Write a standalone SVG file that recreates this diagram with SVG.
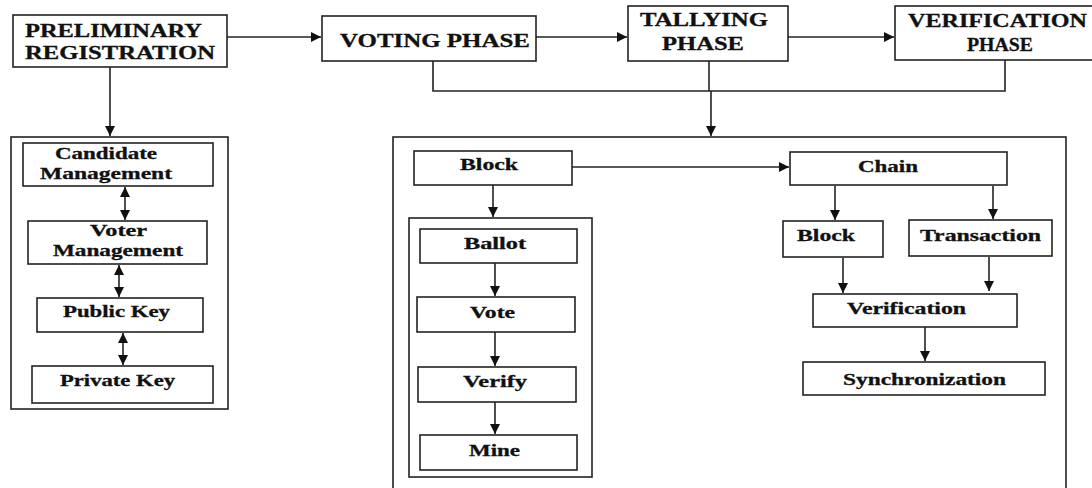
<svg xmlns="http://www.w3.org/2000/svg" width="1092" height="488" viewBox="0 0 1092 488">
  <style>
    .box { fill: #fff; stroke: #222; stroke-width: 1.6; }
    .frame { fill: none; stroke: #222; stroke-width: 1.6; }
    .lbl { font-family: "Liberation Serif", "Times New Roman", serif; font-weight: bold; fill: #111; stroke: #111; stroke-width: 0.3; }
    .h { font-size: 18.5px; }
    .s { font-size: 16px; }
    .wire { fill: none; stroke: #222; stroke-width: 1.6; }
    .arrow { marker-end: url(#head); }
    .both { marker-start: url(#head); marker-end: url(#head); }
  </style>
  <defs>
    <marker id="head" viewBox="0 0 10 10" refX="10" refY="5" markerWidth="10" markerHeight="10" markerUnits="userSpaceOnUse" orient="auto-start-reverse">
      <path d="M0,0 L10,5 L0,10 z" fill="#111"/>
    </marker>
  </defs>

  <rect width="1092" height="488" fill="#fff"/>

  <!-- container frames -->
  <rect id="registration-panel" class="frame" x="11" y="137" width="217" height="272"/>
  <rect id="blockchain-panel" class="frame" x="393" y="137" width="673" height="360"/>
  <rect id="block-contents" class="frame" x="409" y="218" width="183" height="259"/>

  <!-- phase boxes -->
  <g id="preliminary">
    <rect class="box" x="13" y="15" width="214" height="52"/>
    <text class="lbl h" x="25" y="37" textLength="177" lengthAdjust="spacingAndGlyphs">PRELIMINARY</text>
    <text class="lbl h" x="25" y="59" textLength="190" lengthAdjust="spacingAndGlyphs">REGISTRATION</text>
  </g>
  <g id="voting">
    <rect class="box" x="322" y="16" width="214" height="45"/>
    <text class="lbl h" x="340" y="47" textLength="190" lengthAdjust="spacingAndGlyphs">VOTING PHASE</text>
  </g>
  <g id="tallying">
    <rect class="box" x="628" y="6" width="160" height="55"/>
    <text class="lbl h" x="640" y="26" textLength="128" lengthAdjust="spacingAndGlyphs">TALLYING</text>
    <text class="lbl h" x="662" y="50" textLength="82" lengthAdjust="spacingAndGlyphs">PHASE</text>
  </g>
  <g id="verification-phase">
    <rect class="box" x="895" y="6" width="200" height="54"/>
    <text class="lbl h" x="908" y="27" textLength="179" lengthAdjust="spacingAndGlyphs">VERIFICATION</text>
    <text class="lbl h" x="967" y="51" textLength="66" lengthAdjust="spacingAndGlyphs">PHASE</text>
  </g>

  <!-- registration steps -->
  <g id="candidate">
    <rect class="box" x="23" y="143" width="190" height="43"/>
    <text class="lbl s" x="55" y="159" textLength="102" lengthAdjust="spacingAndGlyphs">Candidate</text>
    <text class="lbl s" x="40" y="179" textLength="132" lengthAdjust="spacingAndGlyphs">Management</text>
  </g>
  <g id="voter">
    <rect class="box" x="28" y="221" width="179" height="43"/>
    <text class="lbl s" x="90" y="236" textLength="57" lengthAdjust="spacingAndGlyphs">Voter</text>
    <text class="lbl s" x="53" y="256" textLength="130" lengthAdjust="spacingAndGlyphs">Management</text>
  </g>
  <g id="public-key">
    <rect class="box" x="37" y="298" width="166" height="34"/>
    <text class="lbl s" x="63" y="317" textLength="107" lengthAdjust="spacingAndGlyphs">Public Key</text>
  </g>
  <g id="private-key">
    <rect class="box" x="32" y="366" width="181" height="37"/>
    <text class="lbl s" x="60" y="386" textLength="115" lengthAdjust="spacingAndGlyphs">Private Key</text>
  </g>

  <!-- block branch -->
  <g id="block">
    <rect class="box" x="414" y="151" width="158" height="34"/>
    <text class="lbl s" x="460" y="170" textLength="58" lengthAdjust="spacingAndGlyphs">Block</text>
  </g>
  <g id="ballot">
    <rect class="box" x="420" y="229" width="157" height="34"/>
    <text class="lbl s" x="464" y="249" textLength="62" lengthAdjust="spacingAndGlyphs">Ballot</text>
  </g>
  <g id="vote">
    <rect class="box" x="417" y="297" width="158" height="35"/>
    <text class="lbl s" x="470" y="318" textLength="45" lengthAdjust="spacingAndGlyphs">Vote</text>
  </g>
  <g id="verify">
    <rect class="box" x="418" y="367" width="158" height="35"/>
    <text class="lbl s" x="463" y="387" textLength="64" lengthAdjust="spacingAndGlyphs">Verify</text>
  </g>
  <g id="mine">
    <rect class="box" x="420" y="435" width="157" height="35"/>
    <text class="lbl s" x="469" y="456" textLength="51" lengthAdjust="spacingAndGlyphs">Mine</text>
  </g>

  <!-- chain branch -->
  <g id="chain">
    <rect class="box" x="790" y="152" width="217" height="33"/>
    <text class="lbl s" x="858" y="172" textLength="60" lengthAdjust="spacingAndGlyphs">Chain</text>
  </g>
  <g id="chain-block">
    <rect class="box" x="783" y="221" width="100" height="36"/>
    <text class="lbl s" x="797" y="241" textLength="58" lengthAdjust="spacingAndGlyphs">Block</text>
  </g>
  <g id="transaction">
    <rect class="box" x="909" y="220" width="143" height="36"/>
    <text class="lbl s" x="920" y="241" textLength="121" lengthAdjust="spacingAndGlyphs">Transaction</text>
  </g>
  <g id="verification">
    <rect class="box" x="813" y="294" width="204" height="33"/>
    <text class="lbl s" x="847" y="314" textLength="119" lengthAdjust="spacingAndGlyphs">Verification</text>
  </g>
  <g id="synchronization">
    <rect class="box" x="803" y="362" width="242" height="33"/>
    <text class="lbl s" x="843" y="385" textLength="163" lengthAdjust="spacingAndGlyphs">Synchronization</text>
  </g>

  <!-- connectors -->
  <g id="connectors">
    <path class="wire arrow" d="M227,37 H321"/>
    <path class="wire arrow" d="M536,37 H627"/>
    <path class="wire arrow" d="M788,37 H894"/>
    <path class="wire arrow" d="M110,67 V136"/>
    <path class="wire" d="M433,61 V91 H1005 V60"/>
    <path class="wire" d="M709,61 V91"/>
    <path class="wire arrow" d="M711,91 V136"/>

    <path class="wire both" d="M125,187 V220"/>
    <path class="wire both" d="M119,265 V297"/>
    <path class="wire both" d="M123,333 V365"/>

    <path class="wire arrow" d="M572,167 H789"/>
    <path class="wire arrow" d="M493,185 V217"/>
    <path class="wire arrow" d="M495,263 V296"/>
    <path class="wire arrow" d="M495,332 V366"/>
    <path class="wire arrow" d="M495,402 V434"/>

    <path class="wire arrow" d="M835,186 V220"/>
    <path class="wire arrow" d="M993,186 V219"/>
    <path class="wire arrow" d="M843,258 V293"/>
    <path class="wire arrow" d="M989,257 V291"/>
    <path class="wire arrow" d="M925,327 V361"/>
  </g>
</svg>
